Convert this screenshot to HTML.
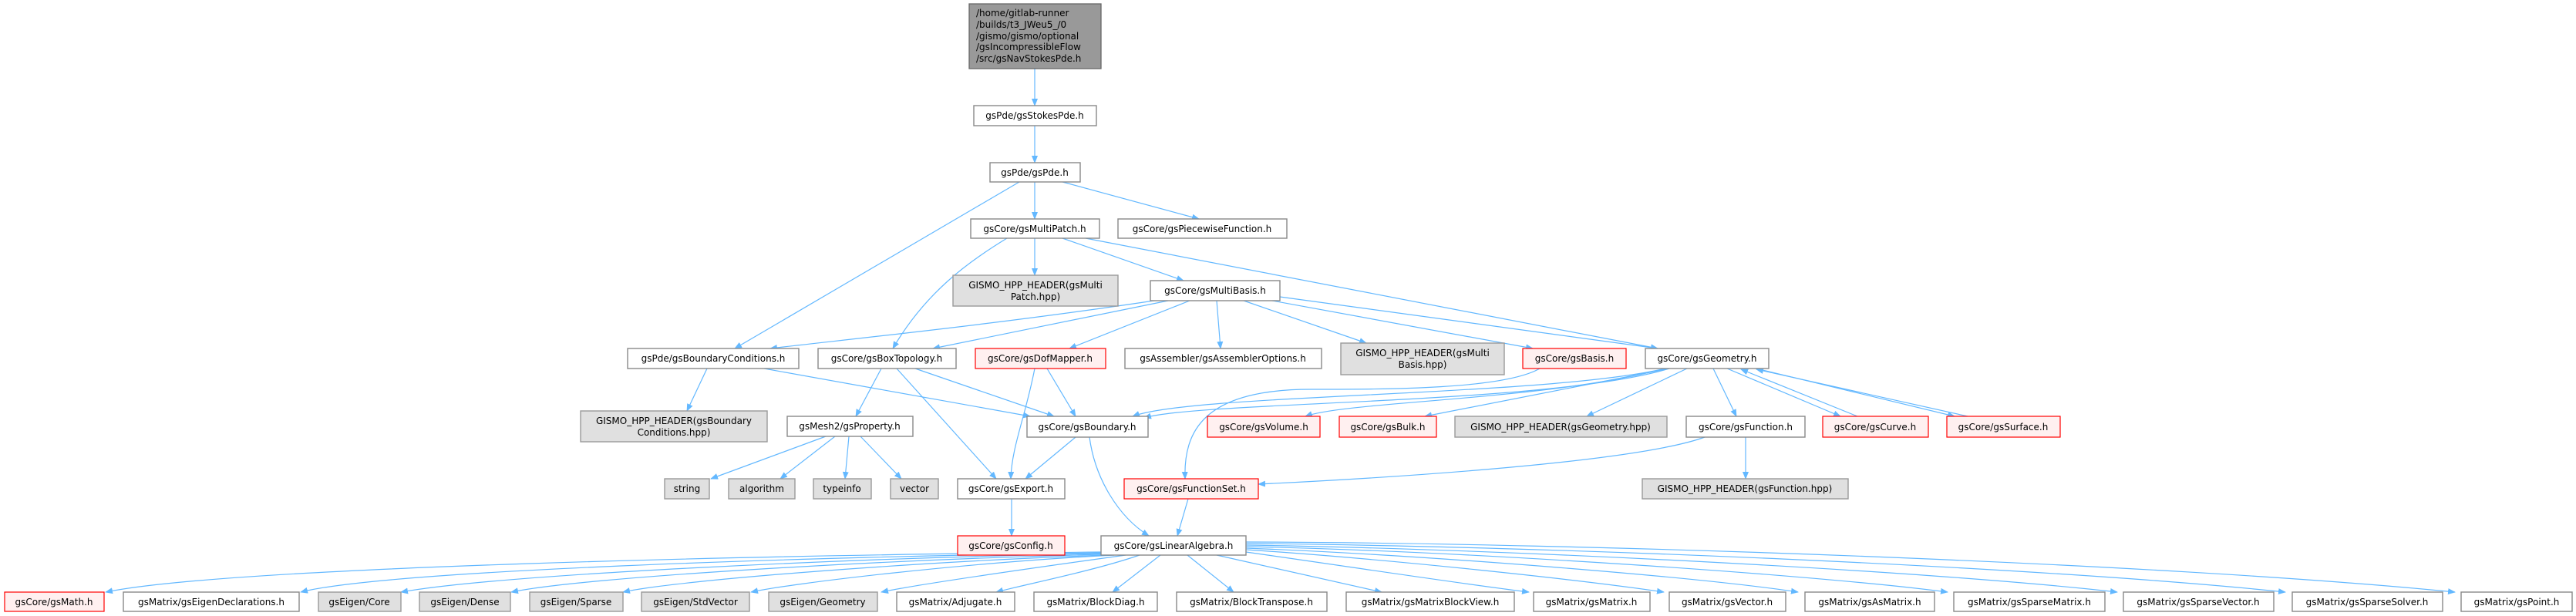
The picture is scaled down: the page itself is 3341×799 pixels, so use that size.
<!DOCTYPE html>
<html><head><meta charset="utf-8"><style>
html,body{margin:0;padding:0;background:#fff;}
svg{display:block;}
text{font-family:"DejaVu Sans","Liberation Sans",sans-serif;font-size:12px;fill:#000;}
.w{fill:#fff;stroke:#888;stroke-width:1.4}
.r{fill:#fff0f0;stroke:#ff0000;stroke-width:1.2}
.g{fill:#e0e0e0;stroke:#999;stroke-width:1.4}
.e{fill:none;stroke:#63b8ff;stroke-width:1.2;marker-end:url(#ah)}
</style></head><body>
<svg width="3341" height="799" viewBox="0 0 3341 799" xmlns="http://www.w3.org/2000/svg">
<defs><marker id="ah" markerWidth="10" markerHeight="8" refX="9" refY="4" orient="auto" markerUnits="userSpaceOnUse"><path d="M0,0 L10,4 L0,8 z" fill="#63b8ff"/></marker></defs>

<path class="e" d="M1342 89 L1342 137"/>
<path class="e" d="M1342 163 L1342 211"/>
<path class="e" d="M1342 236 L1342 284"/>
<path class="e" d="M1378 236 L1555 284"/>
<path class="e" d="M1322 236 L953 452"/>
<path class="e" d="M1342 309 L1342 357"/>
<path class="e" d="M1378 309 L1535 364"/>
<path class="e" d="M1408 309 L2150 452"/>
<path class="e" d="M1306 309 C1255 340 1200 380 1158 452"/>
<path class="e" d="M1510 388 C1300 420 1100 440 999 452"/>
<path class="e" d="M1515 390 L1210 452"/>
<path class="e" d="M1543 390 L1387 452"/>
<path class="e" d="M1578 390 L1583 452"/>
<path class="e" d="M1613 390 L1772 445"/>
<path class="e" d="M1650 390 L1988 452"/>
<path class="e" d="M1660 385 L2150 452"/>
<path class="e" d="M917 478 L891 533"/>
<path class="e" d="M991 478 L1336 540"/>
<path class="e" d="M1143 478 L1110 540"/>
<path class="e" d="M1163 478 L1292 621"/>
<path class="e" d="M1187 478 L1367 540"/>
<path class="e" d="M1358 478 L1395 540"/>
<path class="e" d="M1342 478 C1330 540 1312 580 1311 621"/>
<path class="e" d="M1997 478 C1950 505 1800 505 1700 505 C1560 505 1535 560 1537 621"/>
<path class="e" d="M2160 478 C2000 515 1550 510 1469 540"/>
<path class="e" d="M2165 478 C2010 525 1560 520 1484 542"/>
<path class="e" d="M2160 478 C2000 520 1750 520 1693 540"/>
<path class="e" d="M2165 478 L1848 540"/>
<path class="e" d="M2188 478 L2058 540"/>
<path class="e" d="M2222 478 L2252 540"/>
<path class="e" d="M2240 478 L2387 540"/>
<path class="e" d="M2409 540 L2258 479"/>
<path class="e" d="M2278 478 L2535 540"/>
<path class="e" d="M2552 540 L2278 479"/>
<path class="e" d="M1071 566 L922 621"/>
<path class="e" d="M1083 566 L1012 621"/>
<path class="e" d="M1101 566 L1096 621"/>
<path class="e" d="M1116 566 L1169 621"/>
<path class="e" d="M1395 567 L1330 621"/>
<path class="e" d="M1413 567 C1420 620 1450 670 1490 695"/>
<path class="e" d="M2211 567 C2120 600 1800 620 1632 628"/>
<path class="e" d="M2264 567 L2264 621"/>
<path class="e" d="M1312 647 L1312 695"/>
<path class="e" d="M1541 647 L1527 695"/>
<path class="e" d="M1428 716 C1000 720 300 735 137 768"/>
<path class="e" d="M1428 717 C1050 722 500 740 390 768"/>
<path class="e" d="M1428 718 C1100 724 650 745 520 768"/>
<path class="e" d="M1430 719 C1150 726 760 748 663 768"/>
<path class="e" d="M1435 720 C1200 728 880 752 808 768"/>
<path class="e" d="M1445 720 C1250 730 1030 756 974 768"/>
<path class="e" d="M1460 720 C1330 738 1190 758 1143 768"/>
<path class="e" d="M1478 720 C1420 740 1330 758 1292 768"/>
<path class="e" d="M1505 720 L1443 768"/>
<path class="e" d="M1540 720 L1600 768"/>
<path class="e" d="M1578 720 L1792 768"/>
<path class="e" d="M1616 716 C1750 735 1900 758 1983 768"/>
<path class="e" d="M1616 713 C1800 725 2050 752 2158 768"/>
<path class="e" d="M1616 711 C1850 720 2200 748 2332 768"/>
<path class="e" d="M1616 709 C1900 715 2350 745 2526 768"/>
<path class="e" d="M1616 707 C1950 712 2500 740 2746 768"/>
<path class="e" d="M1616 705 C2000 708 2650 735 2964 768"/>
<path class="e" d="M1616 703 C2050 704 2800 730 3184 768"/>

<rect x="1257" y="5" width="171" height="84" fill="#999" stroke="#666" stroke-width="1.3"/>
<text x="1266" y="21">/home/gitlab-runner</text>
<text x="1266" y="36">/builds/t3_JWeu5_/0</text>
<text x="1266" y="51">/gismo/gismo/optional</text>
<text x="1266" y="65">/gsIncompressibleFlow</text>
<text x="1266" y="80">/src/gsNavStokesPde.h</text>

<g text-anchor="middle">
<rect class="w" x="1263" y="137" width="159" height="26"/><text x="1342" y="154">gsPde/gsStokesPde.h</text>
<rect class="w" x="1284" y="211" width="117" height="25"/><text x="1342" y="228">gsPde/gsPde.h</text>
<rect class="w" x="1259" y="284" width="167" height="25"/><text x="1342" y="301">gsCore/gsMultiPatch.h</text>
<rect class="w" x="1450" y="284" width="219" height="25"/><text x="1559" y="301">gsCore/gsPiecewiseFunction.h</text>
<rect class="g" x="1236" y="357" width="214" height="40"/><text x="1343" y="374">GISMO_HPP_HEADER(gsMulti</text><text x="1343" y="389">Patch.hpp)</text>
<rect class="w" x="1492" y="364" width="168" height="26"/><text x="1576" y="381">gsCore/gsMultiBasis.h</text>

<rect class="w" x="814" y="452" width="222" height="26"/><text x="925" y="469">gsPde/gsBoundaryConditions.h</text>
<rect class="w" x="1061" y="452" width="179" height="26"/><text x="1150" y="469">gsCore/gsBoxTopology.h</text>
<rect class="r" x="1265" y="452" width="169" height="26"/><text x="1349" y="469">gsCore/gsDofMapper.h</text>
<rect class="w" x="1459" y="452" width="255" height="26"/><text x="1586" y="469">gsAssembler/gsAssemblerOptions.h</text>
<rect class="g" x="1739" y="445" width="212" height="41"/><text x="1845" y="462">GISMO_HPP_HEADER(gsMulti</text><text x="1845" y="477">Basis.hpp)</text>
<rect class="r" x="1975" y="452" width="134" height="26"/><text x="2042" y="469">gsCore/gsBasis.h</text>
<rect class="w" x="2134" y="452" width="160" height="26"/><text x="2214" y="469">gsCore/gsGeometry.h</text>

<rect class="g" x="753" y="533" width="242" height="40"/><text x="874" y="550">GISMO_HPP_HEADER(gsBoundary</text><text x="874" y="565">Conditions.hpp)</text>
<rect class="w" x="1021" y="540" width="163" height="26"/><text x="1102" y="557">gsMesh2/gsProperty.h</text>
<rect class="w" x="1332" y="540" width="157" height="27"/><text x="1410" y="558">gsCore/gsBoundary.h</text>
<rect class="r" x="1566" y="540" width="146" height="27"/><text x="1639" y="558">gsCore/gsVolume.h</text>
<rect class="r" x="1737" y="540" width="126" height="27"/><text x="1800" y="558">gsCore/gsBulk.h</text>
<rect class="g" x="1887" y="540" width="275" height="27"/><text x="2024" y="558">GISMO_HPP_HEADER(gsGeometry.hpp)</text>
<rect class="w" x="2187" y="540" width="154" height="27"/><text x="2264" y="558">gsCore/gsFunction.h</text>
<rect class="r" x="2364" y="540" width="137" height="27"/><text x="2432" y="558">gsCore/gsCurve.h</text>
<rect class="r" x="2525" y="540" width="147" height="27"/><text x="2598" y="558">gsCore/gsSurface.h</text>

<rect class="g" x="862" y="621" width="58" height="26"/><text x="891" y="638">string</text>
<rect class="g" x="945" y="621" width="86" height="26"/><text x="988" y="638">algorithm</text>
<rect class="g" x="1055" y="621" width="75" height="26"/><text x="1092" y="638">typeinfo</text>
<rect class="g" x="1155" y="621" width="62" height="26"/><text x="1186" y="638">vector</text>
<rect class="w" x="1242" y="621" width="139" height="26"/><text x="1311" y="638">gsCore/gsExport.h</text>
<rect class="r" x="1458" y="621" width="174" height="26"/><text x="1545" y="638">gsCore/gsFunctionSet.h</text>
<rect class="g" x="2130" y="621" width="267" height="26"/><text x="2263" y="638">GISMO_HPP_HEADER(gsFunction.hpp)</text>

<rect class="r" x="1242" y="695" width="139" height="25"/><text x="1311" y="712">gsCore/gsConfig.h</text>
<rect class="w" x="1428" y="695" width="188" height="25"/><text x="1522" y="712">gsCore/gsLinearAlgebra.h</text>

<rect class="r" x="6" y="768" width="129" height="25"/><text x="70" y="785">gsCore/gsMath.h</text>
<rect class="w" x="160" y="768" width="228" height="25"/><text x="274" y="785">gsMatrix/gsEigenDeclarations.h</text>
<rect class="g" x="413" y="768" width="107" height="25"/><text x="466" y="785">gsEigen/Core</text>
<rect class="g" x="544" y="768" width="118" height="25"/><text x="603" y="785">gsEigen/Dense</text>
<rect class="g" x="687" y="768" width="121" height="25"/><text x="747" y="785">gsEigen/Sparse</text>
<rect class="g" x="832" y="768" width="140" height="25"/><text x="902" y="785">gsEigen/StdVector</text>
<rect class="g" x="997" y="768" width="141" height="25"/><text x="1067" y="785">gsEigen/Geometry</text>
<rect class="w" x="1163" y="768" width="153" height="25"/><text x="1239" y="785">gsMatrix/Adjugate.h</text>
<rect class="w" x="1341" y="768" width="160" height="25"/><text x="1421" y="785">gsMatrix/BlockDiag.h</text>
<rect class="w" x="1526" y="768" width="195" height="25"/><text x="1623" y="785">gsMatrix/BlockTranspose.h</text>
<rect class="w" x="1746" y="768" width="218" height="25"/><text x="1855" y="785">gsMatrix/gsMatrixBlockView.h</text>
<rect class="w" x="1989" y="768" width="151" height="25"/><text x="2064" y="785">gsMatrix/gsMatrix.h</text>
<rect class="w" x="2165" y="768" width="151" height="25"/><text x="2240" y="785">gsMatrix/gsVector.h</text>
<rect class="w" x="2341" y="768" width="168" height="25"/><text x="2425" y="785">gsMatrix/gsAsMatrix.h</text>
<rect class="w" x="2534" y="768" width="196" height="25"/><text x="2632" y="785">gsMatrix/gsSparseMatrix.h</text>
<rect class="w" x="2754" y="768" width="195" height="25"/><text x="2851" y="785">gsMatrix/gsSparseVector.h</text>
<rect class="w" x="2973" y="768" width="195" height="25"/><text x="3070" y="785">gsMatrix/gsSparseSolver.h</text>
<rect class="w" x="3192" y="768" width="144" height="25"/><text x="3264" y="785">gsMatrix/gsPoint.h</text>
</g>
</svg>
</body></html>
